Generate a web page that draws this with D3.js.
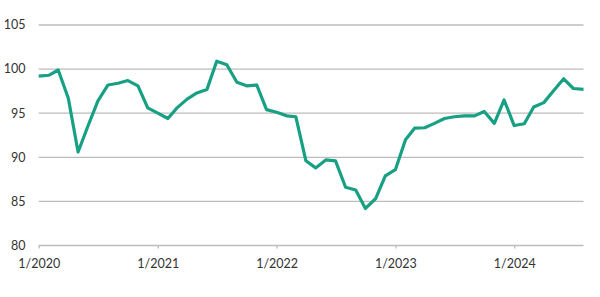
<!DOCTYPE html>
<html>
<head>
<meta charset="utf-8">
<script src="https://cdn.jsdelivr.net/npm/d3@7"></script>
<style>
  body { margin: 0; background: #fff; }
  text { font-family: Lato, "Noto Sans", sans-serif; fill: #333; }
</style>
</head>
<body>
<script>
var width = 600;
var height = 297;

// monthly index, 1/2020 .. 8/2024
var startMonth = new Date(2020, 0, 1);
var values = [
  99.2, 99.3, 99.9, 96.7, 90.6, 93.6, 96.4, 98.2, 98.4, 98.7, 98.1, 95.6,
  95.0, 94.4, 95.6, 96.6, 97.3, 97.7, 100.9, 100.5, 98.5, 98.1, 98.2, 95.4,
  95.1, 94.7, 94.6, 89.6, 88.8, 89.7, 89.6, 86.6, 86.3, 84.2, 85.3, 87.9,
  88.6, 92.0, 93.3, 93.35, 93.85, 94.4, 94.6, 94.7, 94.7, 95.2, 93.85, 96.5,
  93.6, 93.8, 95.7, 96.2, 97.55, 98.9, 97.8, 97.7
];
var yTicks = [80, 85, 90, 95, 100, 105];
var xTicks = [new Date(2020, 0, 1), new Date(2021, 0, 1), new Date(2022, 0, 1),
              new Date(2023, 0, 1), new Date(2024, 0, 1)];

var data = values.map(function (v, i) {
  return { date: d3.timeMonth.offset(startMonth, i), value: v };
});

var svg = d3.select("body").append("svg")
    .attr("width", width)
    .attr("height", height);

var plotLeft = 38.7, plotRight = 583.5, plotTop = 25, plotBottom = 245.5;

var x = d3.scaleTime()
    .domain([startMonth, data[data.length - 1].date])
    .range([plotLeft, plotRight]);
var y = d3.scaleLinear()
    .domain([80, 105])
    .range([plotBottom, plotTop]);

// gridlines
svg.append("g")
  .selectAll("line")
  .data(yTicks)
  .enter()
  .append("line")
    .attr("x1", plotLeft)
    .attr("x2", plotRight)
    .attr("y1", function (d) { return y(d); })
    .attr("y2", function (d) { return y(d); })
    .attr("stroke", "#bcbcbc")
    .attr("stroke-width", 1.3);

// y labels
svg.append("g")
  .selectAll("text")
  .data(yTicks)
  .enter()
  .append("text")
    .attr("x", 25.5)
    .attr("y", function (d) { return y(d); })
    .attr("dy", "0.35em")
    .attr("text-anchor", "end")
    .attr("font-size", 12.5)
    .text(function (d) { return d; });

// x axis ticks + labels
var xAxis = svg.append("g")
    .attr("transform", "translate(0," + plotBottom + ")")
    .call(d3.axisBottom(x)
      .tickValues(xTicks)
      .tickSize(3)
      .tickSizeOuter(0)
      .tickFormat(function (d) { return (d.getMonth() + 1) + "/" + d.getFullYear(); }));
xAxis.select(".domain").remove();
xAxis.selectAll("line").attr("stroke", "#bcbcbc").attr("stroke-width", 1.3);
xAxis.selectAll("text")
    .attr("font-size", 12.5)
    .attr("font-family", "Lato, 'Noto Sans', sans-serif")
    .attr("fill", "#333")
    .attr("dy", "1.3em");

// series line
var line = d3.line()
    .x(function (d) { return x(d.date); })
    .y(function (d) { return y(d.value); });

svg.append("path")
    .datum(data)
    .attr("fill", "none")
    .attr("stroke", "#17a083")
    .attr("stroke-width", 3.2)
    .attr("stroke-linejoin", "round")
    .attr("d", line);
</script>
</body>
</html>
